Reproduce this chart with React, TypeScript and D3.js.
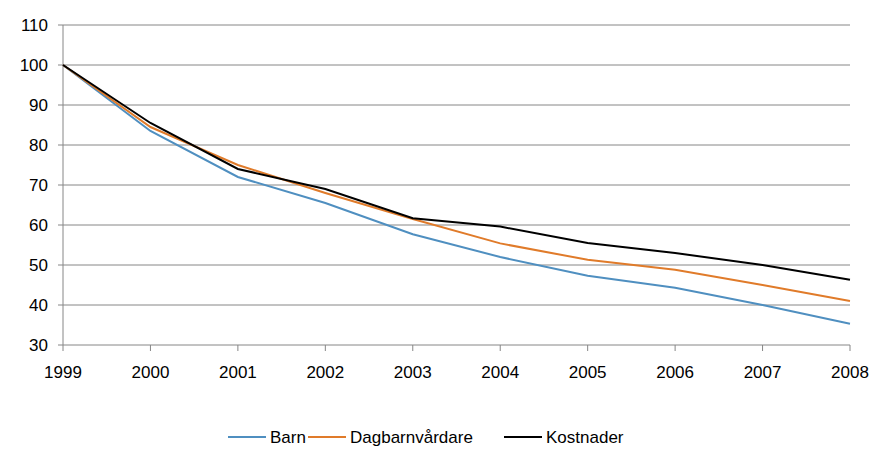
import React from "react";
import * as d3 from "d3";

const years = [1999, 2000, 2001, 2002, 2003, 2004, 2005, 2006, 2007, 2008];
const barn = [100, 83.5, 72, 65.5, 57.7, 52, 47.3, 44.3, 40, 35.3];
const dagbarn = [100, 84.5, 75, 68, 61.5, 55.4, 51.3, 48.8, 45, 41];
const kostnader = [100, 85.5, 74, 69, 61.7, 59.6, 55.5, 53, 50, 46.3];
const yTicks = [30, 40, 50, 60, 70, 80, 90, 100, 110];

const series = [
  { name: "Barn", values: barn, color: "#4f8fc0" },
  { name: "Dagbarnvårdare", values: dagbarn, color: "#e07b2a" },
  { name: "Kostnader", values: kostnader, color: "#000000" },
];

export default function App() {
  const x = d3.scaleLinear().domain([1999, 2008]).range([63, 850]);
  const y = d3.scaleLinear().domain([30, 110]).range([345, 25]);
  const line = d3.line<number>().x((_, i) => x(years[i])).y((d) => y(d));
  const font = "Liberation Sans, Arial, sans-serif";
  const legend = [228, 308, 504];
  return (
    <svg width={876} height={454} style={{ position: "absolute", left: 0, top: 0 }} fontFamily={font}>
      <rect width={876} height={454} fill="#fff" />
      {yTicks.map((t) => (
        <g key={t}>
          {t > 30 && <line x1={63} x2={850} y1={y(t)} y2={y(t)} stroke="#868686" strokeWidth={1} />}
          <line x1={58} x2={63} y1={y(t)} y2={y(t)} stroke="#868686" />
          <text x={48} y={y(t)} dy="0.35em" textAnchor="end" fontSize={17}>{t}</text>
        </g>
      ))}
      <line x1={63} x2={63} y1={25} y2={345} stroke="#868686" />
      <line x1={63} x2={850} y1={345} y2={345} stroke="#868686" />
      {years.map((yr) => (
        <g key={yr}>
          <line x1={x(yr)} x2={x(yr)} y1={345} y2={351} stroke="#868686" />
          <text x={x(yr)} y={378} textAnchor="middle" fontSize={17}>{yr}</text>
        </g>
      ))}
      {series.map((s) => (
        <path key={s.name} d={line(s.values) || ""} fill="none" stroke={s.color} strokeWidth={2} />
      ))}
      {series.map((s, i) => (
        <g key={s.name}>
          <line x1={legend[i]} x2={legend[i] + 38} y1={437} y2={437} stroke={s.color} strokeWidth={2} />
          <text x={legend[i] + 42} y={437} dy="0.35em" fontSize={17}>{s.name}</text>
        </g>
      ))}
    </svg>
  );
}
